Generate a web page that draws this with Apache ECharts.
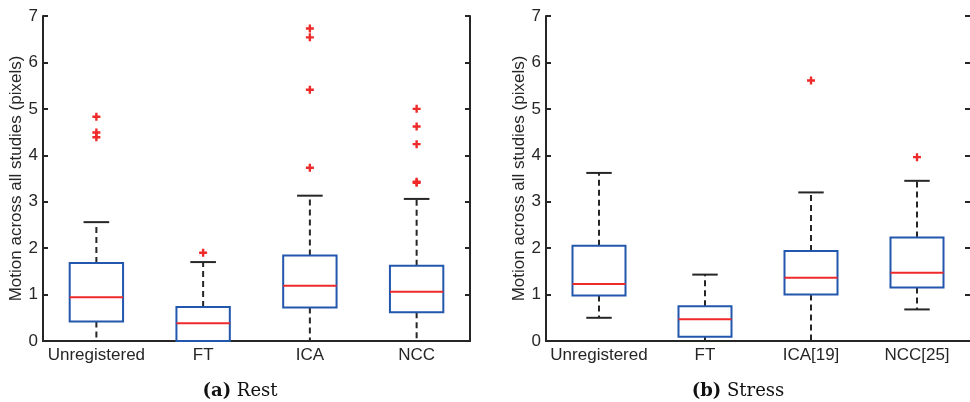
<!DOCTYPE html>
<html>
<head>
	<meta charset="utf-8"/>
	<title>Motion boxplots</title>
	<style type="text/css">
		html, body { margin: 0; padding: 0; background: #ffffff; }
		#chart { width: 970px; height: 402px; }
	</style>
</head>
<body>
	<div id="chart"></div>

	<script src="https://cdn.jsdelivr.net/npm/echarts@6/dist/echarts.min.js"></script>
	<script type="text/javascript">

		// (a) Rest
		var restCategories = ['Unregistered', 'FT', 'ICA', 'NCC'];
		var restLower  = [0, 0, 0, 0];
		var restQ1     = [0.42, 0, 0.72, 0.62];
		var restMedian = [0.94, 0.38, 1.19, 1.06];
		var restQ3     = [1.68, 0.73, 1.84, 1.62];
		var restUpper  = [2.56, 1.70, 3.13, 3.06];
		var restOutliers = [[4.83, 4.49, 4.39], [1.90], [6.73, 6.54, 5.41, 3.73], [5.00, 4.62, 4.24, 3.43, 3.41]];

		// (b) Stress
		var stressCategories = ['Unregistered', 'FT', 'ICA[19]', 'NCC[25]'];
		var stressLower  = [0.50, 0, 0, 0.68];
		var stressQ1     = [0.98, 0.09, 1.00, 1.15];
		var stressMedian = [1.23, 0.47, 1.36, 1.47];
		var stressQ3     = [2.05, 0.75, 1.94, 2.23];
		var stressUpper  = [3.62, 1.43, 3.20, 3.45];
		var stressOutliers = [[], [], [5.61], [3.96]];

		var yTicks = [0, 1, 2, 3, 4, 5, 6, 7];
		var yTitle = 'Motion across all studies (pixels)';

		var ink = '#262626';
		var boxBlue = '#2257ad';
		var medRed = '#ee2a2a';
		var plusPath = 'path://M3.5,0H6.5V3.5H10V6.5H6.5V10H3.5V6.5H0V3.5H3.5Z';

		function boxRows(lo, q1, med, q3, hi) {
			var rows = [];
			for (var i = 0; i < lo.length; i++) {
				rows.push([i, lo[i], q1[i], med[i], q3[i], hi[i]]);
			}
			return rows;
		}

		function outlierRows(list) {
			var rows = [];
			for (var i = 0; i < list.length; i++) {
				for (var j = 0; j < list[i].length; j++) {
					rows.push([i, list[i][j]]);
				}
			}
			return rows;
		}

		function renderBox(params, api) {
			var i = api.value(0);
			var lo = api.coord([i, api.value(1)]);
			var q1 = api.coord([i, api.value(2)]);
			var med = api.coord([i, api.value(3)]);
			var q3 = api.coord([i, api.value(4)]);
			var hi = api.coord([i, api.value(5)]);
			var band = api.size([1, 0])[0];
			var bw = band * 0.5, cw = band * 0.24;
			var x = lo[0];
			var dash = { stroke: ink, lineWidth: 2, lineDash: [6, 4], fill: null };
			var solid = { stroke: ink, lineWidth: 2, fill: null };
			return {
				type: 'group',
				children: [
					{ type: 'line', shape: { x1: x, y1: q3[1], x2: x, y2: hi[1] }, style: dash },
					{ type: 'line', shape: { x1: x, y1: q1[1], x2: x, y2: lo[1] }, style: dash },
					{ type: 'line', shape: { x1: x - cw / 2, y1: hi[1], x2: x + cw / 2, y2: hi[1] }, style: solid },
					{ type: 'line', shape: { x1: x - cw / 2, y1: lo[1], x2: x + cw / 2, y2: lo[1] }, style: solid },
					{ type: 'rect', shape: { x: x - bw / 2, y: q3[1], width: bw, height: q1[1] - q3[1] },
						style: { stroke: boxBlue, lineWidth: 2, fill: '#ffffff' } },
					{ type: 'line', shape: { x1: x - bw / 2, y1: med[1], x2: x + bw / 2, y2: med[1] },
						style: { stroke: medRed, lineWidth: 2 } }
				]
			};
		}

		var font = 'Liberation Sans';

		function xAxes(cats, grid) {
			return [
				{
					type: 'category', gridIndex: grid, data: cats, position: 'bottom',
					axisLine: { lineStyle: { color: ink, width: 2 } },
					axisTick: { inside: true, length: 5, alignWithLabel: true, lineStyle: { color: ink, width: 2 } },
					axisLabel: { color: ink, fontSize: 17, fontFamily: font, margin: 6, interval: 0 },
					splitLine: { show: false }
				},
				{
					type: 'category', gridIndex: grid, data: cats, position: 'top',
					axisLine: { lineStyle: { color: ink, width: 2 } },
					axisTick: { inside: true, length: 5, alignWithLabel: true, lineStyle: { color: ink, width: 2 } },
					axisLabel: { show: false },
					splitLine: { show: false }
				}
			];
		}

		function yAxes(grid, showRightLine) {
			return [
				{
					type: 'value', gridIndex: grid, min: yTicks[0], max: yTicks[yTicks.length - 1], interval: 1,
					position: 'left', name: yTitle, nameLocation: 'middle', nameGap: 16,
					nameTextStyle: { color: ink, fontSize: 17, fontFamily: font },
					axisLine: { show: true, lineStyle: { color: ink, width: 2 } },
					axisTick: { show: true, inside: true, length: 5, lineStyle: { color: ink, width: 2 } },
					axisLabel: { color: ink, fontSize: 17, fontFamily: font, margin: 5 },
					splitLine: { show: false }
				},
				{
					type: 'value', gridIndex: grid, min: yTicks[0], max: yTicks[yTicks.length - 1], interval: 1,
					position: 'right',
					axisLine: { show: showRightLine, lineStyle: { color: ink, width: 2 } },
					axisTick: { show: true, inside: true, length: 5, lineStyle: { color: ink, width: 2 } },
					axisLabel: { show: false },
					splitLine: { show: false }
				}
			];
		}

		var chart = echarts.init(document.getElementById('chart'));

		var option = {
			animation: false,
			backgroundColor: '#ffffff',
			grid: [
				{ left: 43, width: 427, top: 16, height: 325 },
				{ left: 546, width: 427, top: 16, height: 325 }
			],
			xAxis: xAxes(restCategories, 0).concat(xAxes(stressCategories, 1)),
			yAxis: yAxes(0, true).concat(yAxes(1, false)),
			series: [
				{
					type: 'custom', xAxisIndex: 0, yAxisIndex: 0,
					data: boxRows(restLower, restQ1, restMedian, restQ3, restUpper),
					encode: { x: 0, y: [1, 2, 3, 4, 5] },
					renderItem: renderBox, clip: false
				},
				{
					type: 'scatter', xAxisIndex: 0, yAxisIndex: 0,
					data: outlierRows(restOutliers),
					symbol: plusPath, symbolSize: 8,
					itemStyle: { color: medRed, opacity: 1 }
				},
				{
					type: 'custom', xAxisIndex: 2, yAxisIndex: 2,
					data: boxRows(stressLower, stressQ1, stressMedian, stressQ3, stressUpper),
					encode: { x: 0, y: [1, 2, 3, 4, 5] },
					renderItem: renderBox, clip: false
				},
				{
					type: 'scatter', xAxisIndex: 2, yAxisIndex: 2,
					data: outlierRows(stressOutliers),
					symbol: plusPath, symbolSize: 8,
					itemStyle: { color: medRed, opacity: 1 }
				}
			],
			graphic: [
				{
					type: 'text', x: 240, y: 391,
					style: {
						text: '{b|(a)} Rest', align: 'center', verticalAlign: 'middle',
						textAlign: 'center', textVerticalAlign: 'middle',
						fill: '#111', font: '18px "DejaVu Serif"',
						rich: { b: { fontWeight: 'bold', fontSize: 18, fontFamily: 'DejaVu Serif', fill: '#111' } }
					}
				},
				{
					type: 'text', x: 738, y: 391,
					style: {
						text: '{b|(b)} Stress', align: 'center', verticalAlign: 'middle',
						textAlign: 'center', textVerticalAlign: 'middle',
						fill: '#111', font: '18px "DejaVu Serif"',
						rich: { b: { fontWeight: 'bold', fontSize: 18, fontFamily: 'DejaVu Serif', fill: '#111' } }
					}
				}
			]
		};

		chart.setOption(option);

	</script>
</body>
</html>
